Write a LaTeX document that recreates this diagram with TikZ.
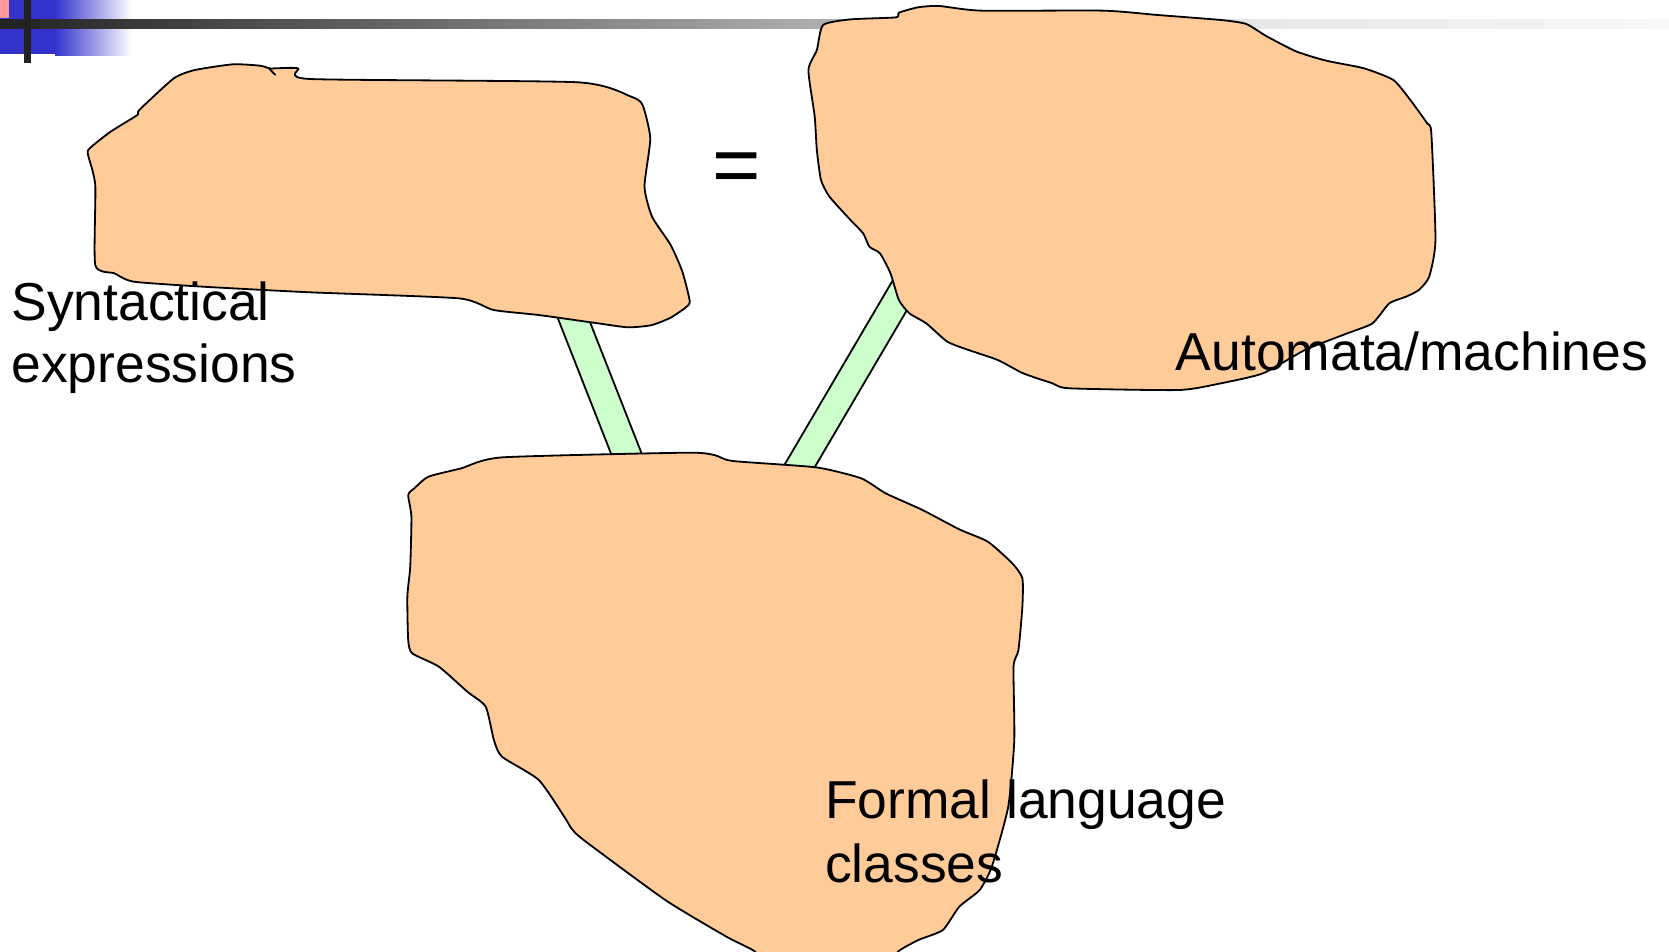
\documentclass[tikz,border=0pt]{standalone}
\usepackage{fontspec}
\setmainfont{Liberation Sans}
\definecolor{peach}{HTML}{FFCC99}
\definecolor{mint}{HTML}{CCFFCC}
\definecolor{slideblue}{HTML}{3333CC}
\definecolor{slidepink}{HTML}{FF9999}
\definecolor{bardark}{HTML}{222222}
\tikzset{
  blob/.style={fill=peach, draw=black, line width=1.7pt, line join=round},
  bridge/.style={fill=mint, draw=black, line width=1.7pt, line join=round},
  label/.style={anchor=base west, inner sep=0pt, font=\fontsize{50.2}{58}\selectfont},
}
\begin{document}
\begin{tikzpicture}[x=1pt, y=-1pt]
\useasboundingbox (0,0) rectangle (1568,894);

% slide header ornament
\fill[slideblue] (0,0) rectangle (51.7,50.5);
\shade[left color=slideblue, right color=white] (51.7,0) rectangle (124,51.7);
\fill[slidepink] (0,0) rectangle (8.5,17.2);
\shade[left color=bardark, right color=black!33] (0,17.9) rectangle (752,27.2);
\shade[left color=black!33, right color=black!9] (752,17.9) rectangle (1200,27.2);
\shade[left color=black!9, right color=black!3] (1200,17.9) rectangle (1568,27.2);
\fill[bardark] (22.5,0) rectangle (29.1,59.5);

% bridges between the regions
\draw[bridge] (516.6,280) -- (545.4,280) -- (608.3,440) -- (579.5,440) -- cycle;
\draw[bridge] (846.6,250) -- (876.3,250) -- (758.9,450) -- (729.2,450) -- cycle;

% syntactical expressions region
\draw[blob] plot[smooth cycle, tension=0.35] coordinates {
  (86,137.8) (103.9,123.7) (129.1,108) (130.9,103.3) (163.3,73.6) (183,65.8)
  (219,60.4) (244.2,61.7) (253.5,64.3) (258.5,64.2) (280.1,64.2) (290.9,74.2)
  (542.6,77.3) (592.9,90.8) (603.7,98.6) (610.9,130) (605.5,175.4) (612.6,203.6)
  (630,230) (641,255) (648,283) (644,289) (630,298.5) (612,305.5) (590,307.5)
  (560,303.5) (506.6,296) (463.5,291.2) (431.1,280.3) (290.9,274.6) (190.2,269.3)
  (125.5,264.6) (107.5,256.8) (89.5,249) (89.5,173.8) (82.4,144)};
\draw[line width=1.7pt, line cap=round] (252.5,64) -- (258.5,70.3);

% automata region
\draw[blob] plot[smooth cycle, tension=0.35] coordinates {
  (773.3,23.5) (799,18.2) (841.8,16.3) (844.5,11.9) (862.3,6.9) (882.1,5.6)
  (921.6,10) (1036.2,10) (1087.7,14.1) (1147,18.8) (1170.7,22.5) (1190.5,34.4)
  (1218.2,48.5) (1245.9,57) (1281.5,64.2) (1309.1,75.2) (1325,94) (1340.8,115.9)
  (1344.7,125.3) (1348.6,225.5) (1342.7,259.9) (1332.9,272.5) (1321,278.7)
  (1305.2,285) (1289.4,303.8) (1265.6,313.2) (1226,328.8) (1186.6,350.7)
  (1147,360.1) (1107.5,366.4) (1004.7,364.8) (988.8,360.1) (961.2,350.7)
  (937.4,338.2) (909.8,328.8) (890,321) (870.2,303.8) (854.4,294.4)
  (844.5,281.9) (836.6,256.8) (826.7,238) (816.8,231.8) (810.9,219.2)
  (799,206.7) (779.3,184.8) (771.3,169.1) (767.4,140.9) (765.4,109.6)
  (759.5,65.8) (767.4,47)};

% formal language classes region
\draw[blob] plot[smooth cycle, tension=0.35] coordinates {
  (383.5,465) (389.2,458.8) (402.6,447.8) (433.3,440) (471.6,429.7)
  (644.2,425.3) (671.1,427.5) (688.4,433.1) (766.9,439.1) (809.1,449.4)
  (832.1,463.5) (866.6,479.1) (901.2,497.3) (928,508.9) (951,529.2)
  (960.5,543.3) (960.5,570) (956.8,610.7) (952.2,626.3) (952.9,695.2)
  (947.2,757.9) (931.8,814.2) (920.3,836.2) (901.2,851.8) (885.8,873.7)
  (862.8,883.1) (843.7,894) (835,910) (720,910) (709.4,894) (682.5,880)
  (625,845.5) (548.4,789.2) (536.8,778.2) (531.1,768.8) (506.2,732.8)
  (471.6,710.9) (464,695.2) (456.3,663.9) (439,649.8) (412.3,626.3)
  (387.3,613.8) (383.5,601.3) (382.7,560.6) (385.4,532.4) (386.5,485.4)};

% labels
\node[label] (syn1) at (10.5,301) {Syntactical};
\node[label] (syn2) at (10.5,359) {expressions};
\node[label] (aut) at (1104.5,348) {Automata/machines};
\node[label] (fl1) at (775,769) {Formal language};
\node[label] (fl2) at (775,829) {classes};
\node[anchor=base, inner sep=0pt, font=\fontsize{78}{90}\selectfont] (eq) at (692.4,181.8) {=};
\end{tikzpicture}
\end{document}
